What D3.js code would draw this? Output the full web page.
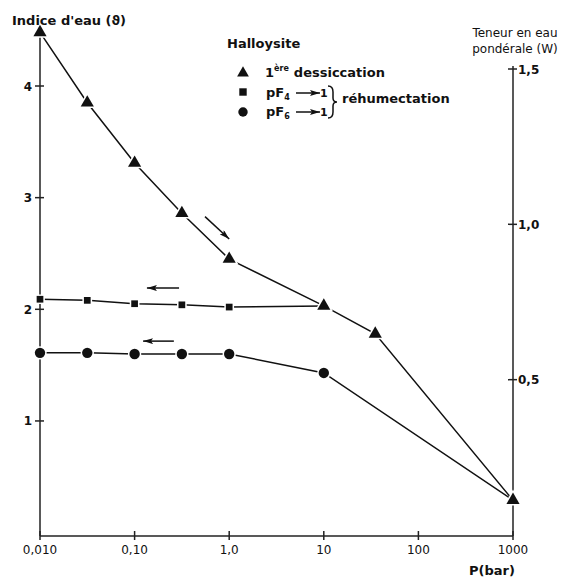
<!DOCTYPE html>
<html>
<head>
<meta charset="utf-8">
<script src="https://cdn.jsdelivr.net/npm/d3@7"></script>
<style>
  html, body { margin: 0; padding: 0; background: #fff; }
  svg text { font-family: "DejaVu Sans", sans-serif; fill: #111; }
</style>
</head>
<body>
<svg id="chart" width="578" height="580"></svg>
<script>
// Pressure (bar) and water index for the first drying of halloysite
const dryPressure = [0.01, 0.0316, 0.1, 0.316, 1, 10, 35, 1000];
const dryIndex = [4.48, 3.85, 3.31, 2.86, 2.45, 2.03, 1.78, 0.29];

// Rewetting from pF4 (starts on the drying curve at 10 bar)
const pF4Pressure = [10, 1, 0.316, 0.1, 0.0316, 0.01];
const pF4Index = [2.03, 2.02, 2.04, 2.05, 2.08, 2.09];

// Rewetting from pF6 (starts on the drying curve at 1000 bar)
const pF6Pressure = [1000, 10, 1, 0.316, 0.1, 0.0316, 0.01];
const pF6Index = [0.29, 1.43, 1.60, 1.60, 1.60, 1.61, 1.61];

// Axis ticks
const xTickValues = [0.01, 0.1, 1, 10, 100, 1000];
const xTickLabels = ["0,010", "0,10", "1,0", "10", "100", "1000"];
const leftTickValues = [1, 2, 3, 4];
const leftTickLabels = ["1", "2", "3", "4"];
const rightTickValues = [0.5, 1.0, 1.5];
const rightTickLabels = ["0,5", "1,0", "1,5"];

// Direction arrows: [fromPressure, fromIndex, toPressure, toIndex]
const dirArrows = [
  [0.555, 2.83, 1.0, 2.63],
  [0.295, 2.19, 0.135, 2.19],
  [0.26, 1.715, 0.123, 1.715]
];

const svg = d3.select("#chart");

const left = 40, right = 513, bottom = 536;
const x = d3.scaleLog().domain([0.01, 1000]).range([left, right]);
const y = d3.scaleLinear().domain([0, 4]).range([532.6, 86]);
const yW = d3.scaleLinear().domain([0, 1.5]).range([535, 69]);

// arrowhead
svg.append("defs").append("marker")
  .attr("id", "head")
  .attr("viewBox", "0 0 10 6")
  .attr("refX", 10).attr("refY", 3)
  .attr("markerWidth", 10).attr("markerHeight", 6)
  .attr("markerUnits", "userSpaceOnUse")
  .attr("orient", "auto")
  .append("path").attr("d", "M0,0 L10,3 L0,6 L2,3 Z").attr("fill", "#111");

// Axes lines
const axisG = svg.append("g").attr("stroke", "#222").attr("stroke-width", 1.5).attr("fill", "none");
axisG.append("line").attr("x1", left).attr("x2", left).attr("y1", bottom).attr("y2", 28);
axisG.append("line").attr("x1", left).attr("x2", right).attr("y1", bottom).attr("y2", bottom);
axisG.append("line").attr("x1", right).attr("x2", right).attr("y1", bottom).attr("y2", 66);

// Bottom ticks
const xt = svg.append("g");
xTickValues.forEach((v, i) => {
  xt.append("line").attr("x1", x(v)).attr("x2", x(v)).attr("y1", bottom - 5).attr("y2", bottom + 4)
    .attr("stroke", "#222").attr("stroke-width", 1.5);
  xt.append("text").attr("x", x(v)).attr("y", bottom + 18).attr("text-anchor", "middle")
    .attr("font-size", 12).text(xTickLabels[i]);
});

// Left ticks
const yt = svg.append("g");
leftTickValues.forEach((v, i) => {
  yt.append("line").attr("x1", left - 5).attr("x2", left + 4).attr("y1", y(v)).attr("y2", y(v))
    .attr("stroke", "#222").attr("stroke-width", 1.5);
  yt.append("text").attr("x", left - 8).attr("y", y(v) + 4.5).attr("text-anchor", "end")
    .attr("font-size", 12).attr("font-weight", "bold").text(leftTickLabels[i]);
});

// Right ticks
const wt = svg.append("g");
rightTickValues.forEach((v, i) => {
  wt.append("line").attr("x1", right - 5).attr("x2", right + 4).attr("y1", yW(v)).attr("y2", yW(v))
    .attr("stroke", "#222").attr("stroke-width", 1.5);
  wt.append("text").attr("x", right + 5).attr("y", yW(v) + 4.5).attr("text-anchor", "start")
    .attr("font-size", 12).attr("font-weight", "bold").text(rightTickLabels[i]);
});

// Curves
const line = d3.line().x(d => x(d[0])).y(d => y(d[1]));
const series = [
  { p: dryPressure, v: dryIndex, shape: d3.symbolTriangle, size: 75, skip: 0 },
  { p: pF4Pressure, v: pF4Index, shape: d3.symbolSquare, size: 45, skip: 1 },
  { p: pF6Pressure, v: pF6Index, shape: d3.symbolCircle, size: 85, skip: 1 }
];
series.forEach(s => {
  const pts = s.p.map((p, i) => [p, s.v[i]]);
  svg.append("path").datum(pts).attr("d", line)
    .attr("fill", "none").attr("stroke", "#111").attr("stroke-width", 1.5);
});
series.forEach(s => {
  const pts = s.p.map((p, i) => [p, s.v[i]]).slice(s.skip);
  svg.append("g").selectAll("path").data(pts).join("path")
    .attr("transform", d => `translate(${x(d[0])},${y(d[1])})`)
    .attr("d", d3.symbol().type(s.shape).size(s.size))
    .attr("fill", "#111").attr("stroke", "#fff").attr("stroke-width", 3)
    .style("paint-order", "stroke");
});

// Direction arrows
svg.append("g").selectAll("line").data(dirArrows).join("line")
  .attr("x1", d => x(d[0])).attr("y1", d => y(d[1]))
  .attr("x2", d => x(d[2])).attr("y2", d => y(d[3]))
  .attr("stroke", "#111").attr("stroke-width", 1.5)
  .attr("marker-end", "url(#head)");

// Titles
svg.append("text").attr("x", 12).attr("y", 25).attr("font-size", 13).attr("font-weight", "bold")
  .text("Indice d'eau (ϑ)");
svg.append("text").attr("x", 515).attr("y", 37).attr("text-anchor", "middle").attr("font-size", 12)
  .text("Teneur en eau");
svg.append("text").attr("x", 515).attr("y", 53).attr("text-anchor", "middle").attr("font-size", 12)
  .text("pondérale (W)");
svg.append("text").attr("x", 492).attr("y", 575).attr("text-anchor", "middle").attr("font-size", 13)
  .attr("font-weight", "bold").text("P(bar)");

// Legend
const lg = svg.append("g");
lg.append("text").attr("x", 227).attr("y", 48).attr("font-size", 13).attr("font-weight", "bold").text("Halloysite");
lg.append("path").attr("transform", "translate(243,73)").attr("d", d3.symbol().type(d3.symbolTriangle).size(60)).attr("fill", "#111");
lg.append("path").attr("transform", "translate(243,92)").attr("d", d3.symbol().type(d3.symbolSquare).size(55)).attr("fill", "#111");
lg.append("path").attr("transform", "translate(243,112)").attr("d", d3.symbol().type(d3.symbolCircle).size(70)).attr("fill", "#111");

const t1 = lg.append("text").attr("x", 265).attr("y", 77).attr("font-size", 13).attr("font-weight", "bold");
t1.append("tspan").text("1");
t1.append("tspan").attr("font-size", 8).attr("dy", -6).text("ère");
t1.append("tspan").attr("dy", 6).attr("dx", 5).text("dessiccation");

[["4", 97], ["6", 116]].forEach(([sub, yy]) => {
  const t = lg.append("text").attr("x", 266).attr("y", yy).attr("font-size", 13).attr("font-weight", "bold");
  t.append("tspan").text("pF");
  t.append("tspan").attr("font-size", 8).attr("dy", 3).text(sub);
  lg.append("line").attr("x1", 296).attr("x2", 320).attr("y1", yy - 4).attr("y2", yy - 4)
    .attr("stroke", "#111").attr("stroke-width", 1.5).attr("marker-end", "url(#head)");
  lg.append("text").attr("x", 320).attr("y", yy).attr("font-size", 11).attr("font-weight", "bold").text("1");
});
// brace grouping both rewetting paths
lg.append("path")
  .attr("d", "M328,86 Q333,86 333,92 L333,98 Q333,102 337,102 Q333,102 333,106 L333,112 Q333,118 328,118")
  .attr("fill", "none").attr("stroke", "#111").attr("stroke-width", 1.5);
lg.append("text").attr("x", 342).attr("y", 103).attr("font-size", 13).attr("font-weight", "bold").text("réhumectation");
</script>
</body>
</html>
